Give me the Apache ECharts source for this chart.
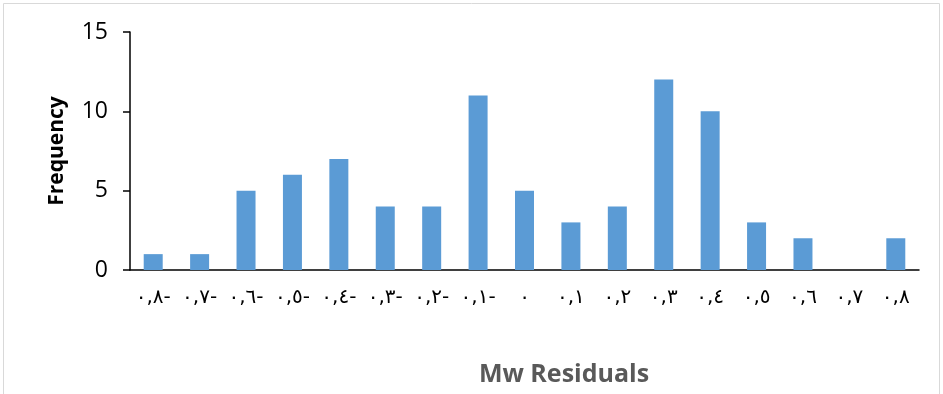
<!DOCTYPE html>
<html>
<head>
<meta charset="utf-8">
<script src="https://cdn.jsdelivr.net/npm/echarts@6/dist/echarts.min.js"></script>
<style>
  html, body { margin: 0; padding: 0; background: #fff; }
  #chart { width: 943px; height: 394px; }
</style>
</head>
<body>
<div id="chart"></div>
<script>
// Residual bins (Arabic-Indic numerals, as printed on the axis)
const categories = [
  '٠,٨-', '٠,٧-', '٠,٦-', '٠,٥-', '٠,٤-', '٠,٣-', '٠,٢-', '٠,١-', '٠',
  '٠,١', '٠,٢', '٠,٣', '٠,٤', '٠,٥', '٠,٦', '٠,٧', '٠,٨'
];
// Count of residuals falling in each bin
const frequency = [1, 1, 5, 6, 7, 4, 4, 11, 5, 3, 4, 12, 10, 3, 2, 0, 2];
const yTicks = { min: 0, max: 15, interval: 5 };
const xTitle = 'Mw Residuals';

const chart = echarts.init(document.getElementById('chart'));
chart.setOption({
  animation: false,
  graphic: [{
    type: 'rect',
    shape: { x: 3.5, y: 3.5, width: 936, height: 400 },
    style: { fill: 'none', stroke: '#d9d9d9', lineWidth: 1 }
  }, {
    type: 'text',
    x: 564, y: 375,
    style: {
      text: xTitle,
      align: 'center', verticalAlign: 'middle',
      font: 'bold 25px "Open Sans"',
      fill: '#595959'
    }
  }],
  grid: { left: 130, right: 24, top: 32, bottom: 124, outerBoundsMode: 'none', containLabel: false },
  xAxis: {
    type: 'category',
    data: categories,
    axisLine: { lineStyle: { color: '#000', width: 1.5 } },
    axisTick: { show: false },
    axisLabel: { interval: 0, margin: 18, fontSize: 20, color: '#000', fontFamily: 'DejaVu Sans' }
  },
  yAxis: {
    type: 'value',
    min: yTicks.min, max: yTicks.max, interval: yTicks.interval,
    name: 'Frequency',
    nameLocation: 'middle',
    nameGap: 62,
    nameTextStyle: { fontFamily: 'Open Sans', fontWeight: 'bold', fontSize: 21, color: '#000' },
    axisLine: { show: true, lineStyle: { color: '#000', width: 1.5 } },
    axisTick: { show: true, inside: false, length: 7, lineStyle: { color: '#000', width: 1.5 } },
    axisLabel: { margin: 22, fontSize: 23, color: '#000', fontFamily: 'Open Sans' },
    splitLine: { show: false }
  },
  series: [{
    type: 'bar',
    data: frequency,
    barWidth: 19,
    itemStyle: { color: '#5B9BD5' }
  }]
});
</script>
</body>
</html>
